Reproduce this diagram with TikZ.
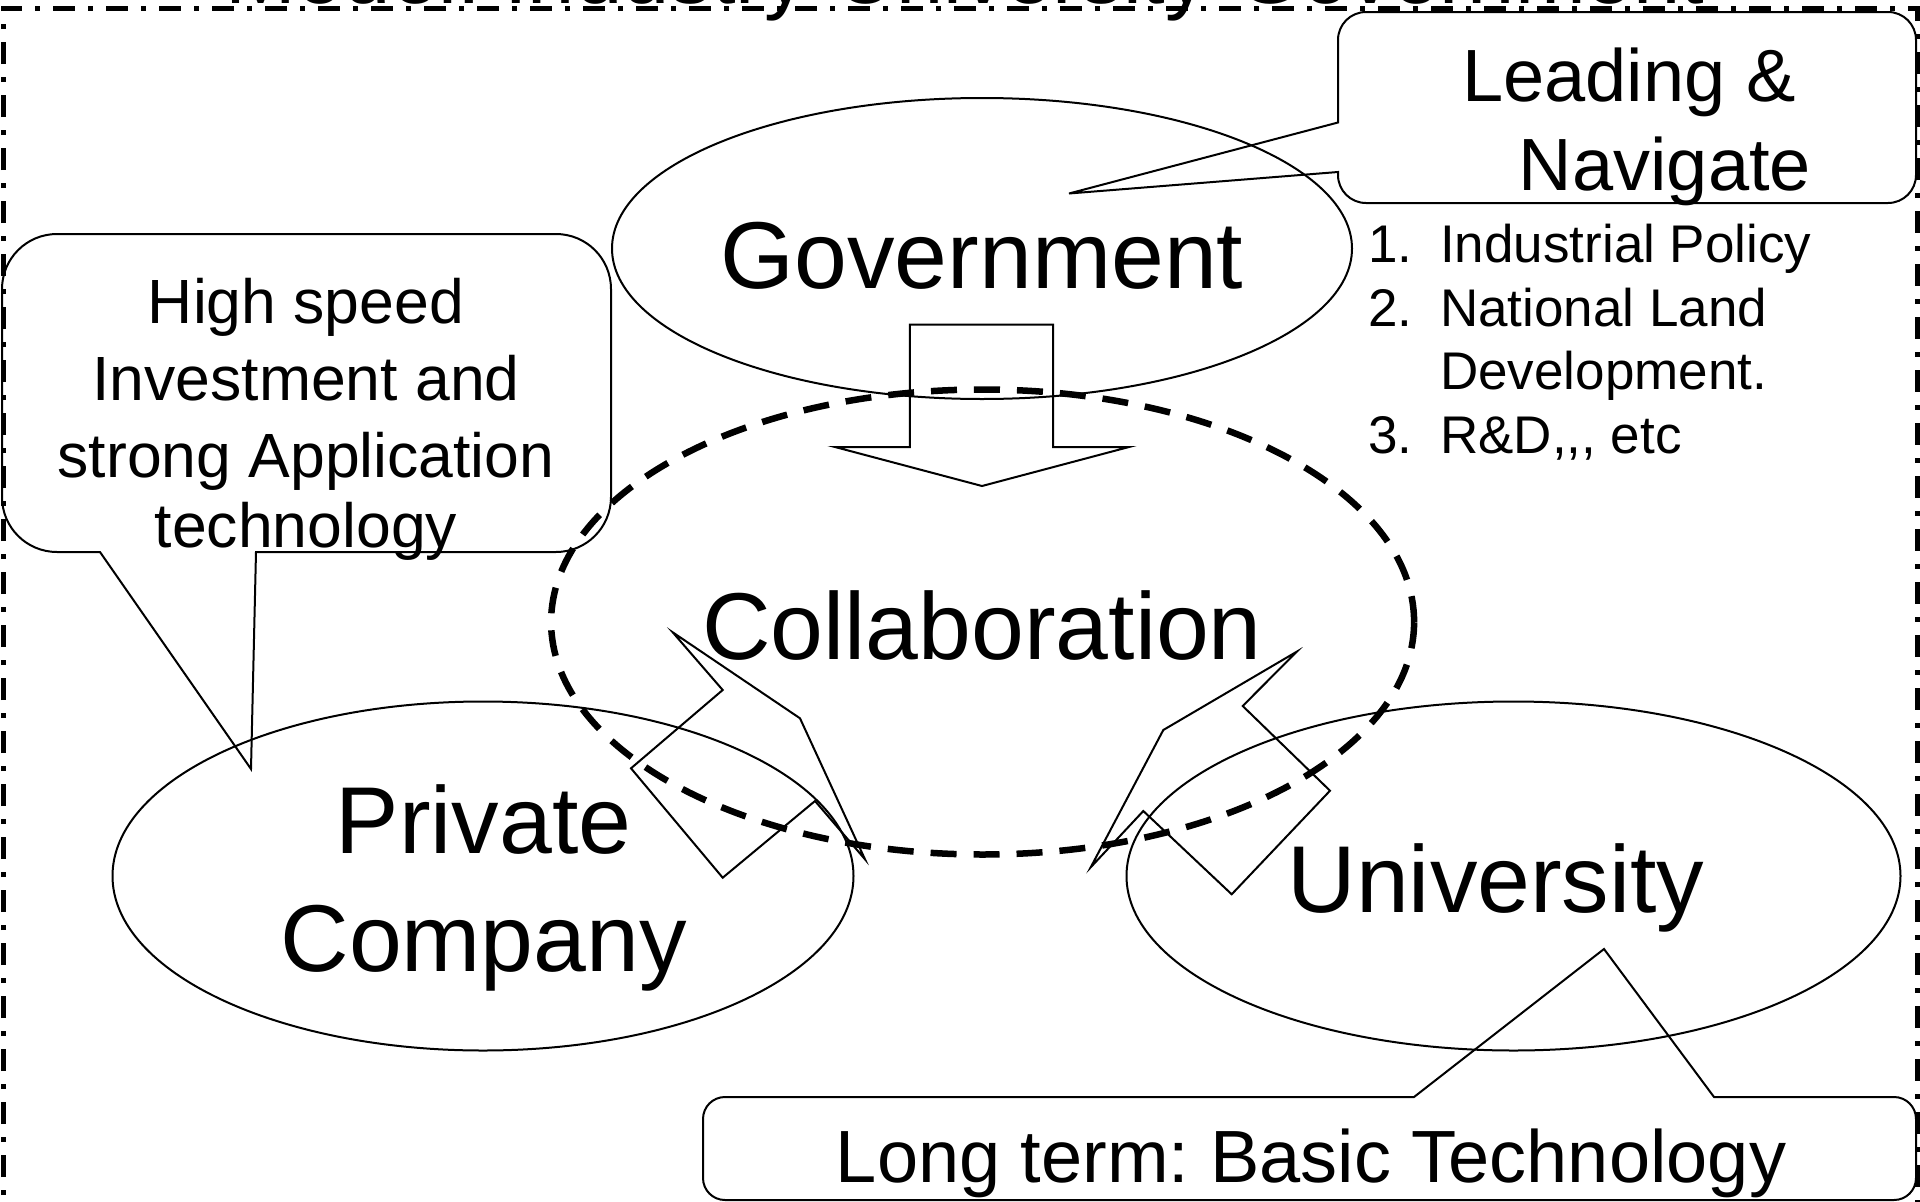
\documentclass[tikz,border=0pt]{standalone}
\usepackage{fontspec}
\setmainfont{Liberation Sans}
\usetikzlibrary{shapes.geometric}
\frenchspacing
\begin{document}
\frenchspacing
\begin{tikzpicture}[x=1pt,y=-1pt,
  lnw/.style={line width=2pt, line join=miter},
  ell/.style={ellipse, draw, line width=2pt, inner sep=0pt},
  txtbig/.style={font=\fontsize{95}{114}\selectfont, inner sep=0pt},
  txtmid/.style={font=\fontsize{74}{88}\selectfont, inner sep=0pt},
  txtsmall/.style={font=\fontsize{53}{64}\selectfont, inner sep=0pt},
  txtcall/.style={font=\fontsize{62.5}{77}\selectfont, inner sep=0pt},
  txttitle/.style={font=\fontsize{85}{100}\selectfont, inner sep=0pt},
  framestyle/.style={line width=5pt, dash pattern=on 22pt off 13pt on 5pt off 13pt},
  collab/.style={line width=6.5pt, dash pattern=on 26pt off 17pt},
]
\useasboundingbox (0,0) rectangle (1920,1202);
\fill[white] (0,0) rectangle (1920,1202);
\clip (0,0) rectangle (1920,1202);

% title (cut off at the top)
\node[txttitle, anchor=base] (title) at (965,3) {Model: Industry-University-Government};

% frame
\draw[framestyle] (3,1230) -- (3,8) -- (1917,8) -- (1917,1230);

% ellipses
\node[ell, minimum width=740pt, minimum height=301pt] (gov) at (982,248.5) {};
\node[ell, minimum width=741pt, minimum height=349pt] (priv) at (483,876) {};
\node[ell, minimum width=774pt, minimum height=349pt] (univ) at (1513.5,876) {};
\node[ellipse, draw, collab, inner sep=0pt, minimum width=863pt, minimum height=465pt] (coll) at (982.6,622) {};

% labels
\node[txtbig, anchor=base] (govtxt) at (982,288) {Government};
\node[txtbig, anchor=base] (colltxt) at (982,659) {Collaboration};
\node[txtbig, anchor=base] (privtxt1) at (483.7,853.5) {Private};
\node[txtbig, anchor=base] (privtxt2) at (483.7,971) {Company};
\node[txtbig, anchor=base] (univtxt) at (1496,912) {University};

% block arrow government -> collaboration
\draw[lnw] (909.8,324.5) -- (1053,324.5) -- (1053,447) -- (1129,447) -- (982,486)
  -- (835,447) -- (909.8,447) -- cycle;

% arrow private -> collaboration
\draw[lnw] (672.7,632.3) -- (722.7,690) -- (631,768.3) -- (722.7,877.7) -- (815,801)
  -- (865,859.3) -- (800,718.3) -- cycle;

% arrow university -> collaboration
\draw[lnw] (1296.7,651.7) -- (1242.7,706) -- (1330,790.7) -- (1231.7,894.3) -- (1143.3,811)
  -- (1090.7,867.3) -- (1163.3,730) -- cycle;

% callout: high speed
\draw[lnw] (256,552) -- (556,552) .. controls (586.4,552) and (611,527.4) .. (611,497)
  -- (611,289) .. controls (611,258.6) and (586.4,234) .. (556,234)
  -- (57,234) .. controls (26.6,234) and (2,258.6) .. (2,289)
  -- (2,497) .. controls (2,527.4) and (26.6,552) .. (57,552)
  -- (100,552) -- (251,769) -- cycle;
\node[txtcall, anchor=base] (hs1) at (306,323) {High speed};
\node[txtcall, anchor=base] (hs2) at (306,400) {Investment and};
\node[txtcall, anchor=base] (hs3) at (306,477) {strong Application};
\node[txtcall, anchor=base] (hs4) at (306,547) {technology};

% callout: leading & navigate
\draw[lnw] (1338,122.5) -- (1338,40) .. controls (1338,24.5) and (1350.5,12) .. (1366,12)
  -- (1888,12) .. controls (1903.5,12) and (1916,24.5) .. (1916,40)
  -- (1916,175) .. controls (1916,190.5) and (1903.5,203) .. (1888,203)
  -- (1366,203) .. controls (1350.5,203) and (1338,190.5) .. (1338,175)
  -- (1338,172) -- (1069,193.5) -- cycle;
\node[txtmid, anchor=base] (lead1) at (1629,101.6) {Leading \&};
\node[txtmid, anchor=base] (lead2) at (1665,190) {Navigate};

% list
\node[txtsmall, anchor=base west] (n1) at (1368,262) {1.};
\node[txtsmall, anchor=base west] (i1) at (1440,262) {Industrial Policy};
\node[txtsmall, anchor=base west] (n2) at (1368,326) {2.};
\node[txtsmall, anchor=base west] (i2) at (1440,326) {National Land};
\node[txtsmall, anchor=base west] (i2b) at (1440,389) {Development.};
\node[txtsmall, anchor=base west] (n3) at (1368,453) {3.};
\node[txtsmall, anchor=base west] (i3) at (1440,453) {R\&D{,}{,}{,} etc};

% callout: long term
\draw[lnw] (1414,1097) -- (1604,949) -- (1714,1097)
  -- (1894,1097) .. controls (1906.2,1097) and (1916,1106.8) .. (1916,1119)
  -- (1916,1178) .. controls (1916,1190.2) and (1906.2,1200) .. (1894,1200)
  -- (725,1200) .. controls (712.8,1200) and (703,1190.2) .. (703,1178)
  -- (703,1119) .. controls (703,1106.8) and (712.8,1097) .. (725,1097) -- cycle;
\node[txtmid, anchor=base] (lt) at (1311,1182) {Long term: Basic Technology};
\end{tikzpicture}
\end{document}
